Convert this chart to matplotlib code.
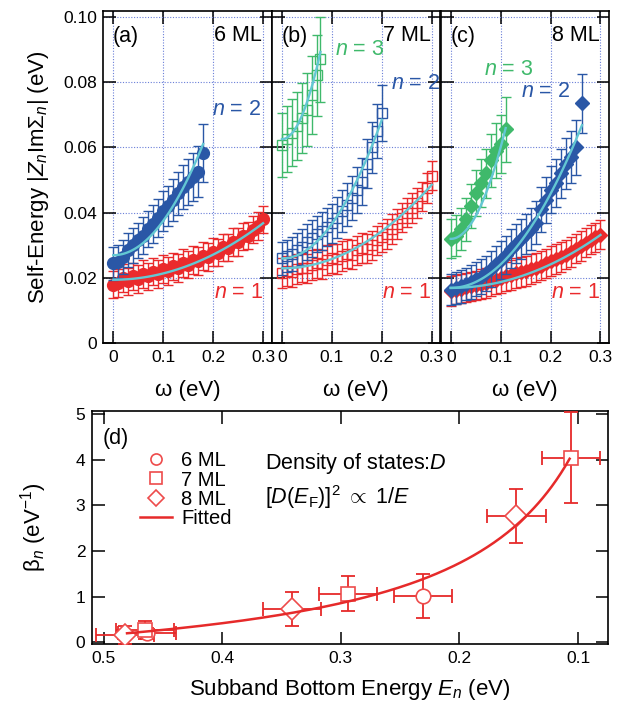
import numpy as np
import matplotlib
matplotlib.use("Agg")
import matplotlib.pyplot as plt
from matplotlib.lines import Line2D

plt.rcParams['font.family'] = ['Liberation Sans', 'DejaVu Sans']
plt.rcParams['mathtext.fontset'] = 'custom'
plt.rcParams['mathtext.rm'] = 'Liberation Sans'
plt.rcParams['mathtext.it'] = 'Liberation Sans:italic'
plt.rcParams['mathtext.bf'] = 'Liberation Sans:bold'
plt.rcParams['mathtext.sf'] = 'Liberation Sans'

RED = '#ea2a2c'
BLUE = '#2a57a6'
GREEN = '#3fb96b'
CYAN = '#63c7d3'
GRIDC = '#6a7fd8'

# ---------------- data: panels (a)-(c), omega in eV, |Z Im Sigma| in eV --------
w31 = [0.00, 0.01, 0.02, 0.03, 0.04, 0.05, 0.06, 0.07, 0.08, 0.09, 0.10, 0.11,
       0.12, 0.13, 0.14, 0.15, 0.16, 0.17, 0.18, 0.19, 0.20, 0.21, 0.22, 0.23,
       0.24, 0.25, 0.26, 0.27, 0.28, 0.29, 0.30]

# 6 ML
w_6_n1 = w31
y_6_n1 = [0.0180, 0.0185, 0.0200, 0.0190, 0.0205, 0.0197, 0.0212, 0.0205, 0.0220,
          0.0213, 0.0228, 0.0222, 0.0236, 0.0231, 0.0246, 0.0241, 0.0256, 0.0252,
          0.0267, 0.0264, 0.0280, 0.0278, 0.0294, 0.0293, 0.0310, 0.0310, 0.0328,
          0.0330, 0.0348, 0.0360, 0.0380]
e_6_n1 = 0.0042
w_6_n2 = [0.00, 0.01, 0.02, 0.03, 0.04, 0.05, 0.06, 0.07, 0.08, 0.09, 0.10, 0.11,
          0.12, 0.13, 0.14, 0.15, 0.16, 0.17, 0.18]
y_6_n2 = [0.0245, 0.0250, 0.0265, 0.0285, 0.0300, 0.0315, 0.0330, 0.0350, 0.0365,
          0.0385, 0.0405, 0.0420, 0.0440, 0.0460, 0.0478, 0.0495, 0.0510, 0.0525,
          0.0583]
e_6_n2 = [0.0050, 0.0050, 0.0052, 0.0052, 0.0054, 0.0054, 0.0056, 0.0056, 0.0058,
          0.0058, 0.0060, 0.0062, 0.0064, 0.0066, 0.0068, 0.0070, 0.0074, 0.0078,
          0.0088]

# 7 ML
w_7_n1 = w31
y_7_n1 = [0.0215, 0.0222, 0.0218, 0.0228, 0.0232, 0.0230, 0.0240, 0.0245, 0.0242,
          0.0255, 0.0260, 0.0258, 0.0268, 0.0275, 0.0272, 0.0285, 0.0292, 0.0290,
          0.0300, 0.0315, 0.0325, 0.0335, 0.0350, 0.0365, 0.0385, 0.0400, 0.0415,
          0.0430, 0.0450, 0.0475, 0.0513]
e_7_n1 = 0.0045
w_7_n2 = [0.00, 0.01, 0.02, 0.03, 0.04, 0.05, 0.06, 0.07, 0.08, 0.09, 0.10, 0.11,
          0.12, 0.13, 0.14, 0.15, 0.16, 0.17, 0.18, 0.19, 0.20]
y_7_n2 = [0.0260, 0.0268, 0.0275, 0.0285, 0.0295, 0.0310, 0.0322, 0.0335, 0.0345,
          0.0355, 0.0368, 0.0385, 0.0405, 0.0425, 0.0445, 0.0470, 0.0495, 0.0550,
          0.0600, 0.0650, 0.0705]
e_7_n2 = [0.0050, 0.0050, 0.0052, 0.0052, 0.0054, 0.0054, 0.0056, 0.0056, 0.0058,
          0.0058, 0.0060, 0.0062, 0.0064, 0.0066, 0.0068, 0.0070, 0.0072, 0.0075,
          0.0078, 0.0082, 0.0085]
w_7_n3 = [0.000, 0.010, 0.020, 0.030, 0.040, 0.050, 0.060, 0.070, 0.077]
y_7_n3 = [0.0608, 0.0625, 0.0645, 0.0665, 0.0690, 0.0715, 0.0760, 0.0820, 0.0870]
e_7_n3 = [0.0098, 0.0100, 0.0102, 0.0105, 0.0108, 0.0112, 0.0118, 0.0125, 0.0130]

# 8 ML
w_8_n1 = w31
y_8_n1 = [0.0160, 0.0165, 0.0168, 0.0172, 0.0175, 0.0178, 0.0182, 0.0185, 0.0190,
          0.0195, 0.0200, 0.0205, 0.0210, 0.0215, 0.0218, 0.0222, 0.0228, 0.0232,
          0.0238, 0.0245, 0.0252, 0.0258, 0.0265, 0.0272, 0.0280, 0.0290, 0.0298,
          0.0308, 0.0318, 0.0325, 0.0333]
e_8_n1 = 0.0045
w_8_n2 = [0.00, 0.01, 0.02, 0.03, 0.04, 0.05, 0.06, 0.07, 0.08, 0.09, 0.10, 0.11,
          0.12, 0.13, 0.14, 0.15, 0.16, 0.17, 0.18, 0.19, 0.20, 0.21, 0.22, 0.23,
          0.24, 0.25, 0.263]
y_8_n2 = [0.0165, 0.0170, 0.0175, 0.0182, 0.0188, 0.0196, 0.0204, 0.0215, 0.0228,
          0.0242, 0.0255, 0.0270, 0.0290, 0.0305, 0.0320, 0.0335, 0.0350, 0.0370,
          0.0410, 0.0440, 0.0470, 0.0490, 0.0520, 0.0550, 0.0570, 0.0600, 0.0735]
e_8_n2 = [0.0048, 0.0048, 0.0050, 0.0050, 0.0052, 0.0052, 0.0054, 0.0054, 0.0056,
          0.0056, 0.0058, 0.0058, 0.0060, 0.0060, 0.0062, 0.0062, 0.0064, 0.0066,
          0.0068, 0.0070, 0.0072, 0.0074, 0.0076, 0.0078, 0.0080, 0.0084, 0.0090]
w_8_n3 = [0.00, 0.01, 0.02, 0.03, 0.04, 0.05, 0.06, 0.07, 0.08, 0.09, 0.10, 0.11]
y_8_n3 = [0.0320, 0.0330, 0.0350, 0.0380, 0.0420, 0.0460, 0.0490, 0.0520, 0.0560,
          0.0590, 0.0610, 0.0655]
e_8_n3 = [0.0060, 0.0062, 0.0064, 0.0066, 0.0068, 0.0070, 0.0073, 0.0076, 0.0080,
          0.0085, 0.0090, 0.0100]

# quadratic fits  y = a + b*w^2 (coefficients), [a, b, w_max]
fit_6_n1 = [0.0195, 0.192, 0.300]
fit_6_n2 = [0.0270, 1.050, 0.180]
fit_7_n1 = [0.0230, 0.284, 0.300]
fit_7_n2 = [0.0260, 1.060, 0.200]
fit_7_n3 = [0.0625, 4.500, 0.077]
fit_8_n1 = [0.0170, 0.180, 0.300]
fit_8_n2 = [0.0170, 0.720, 0.263]
fit_8_n3 = [0.0320, 2.800, 0.110]

# ---------------- data: panel (d) ----------------
E_6 = [0.4635, 0.2305]
b_6 = [0.20, 1.01]
be_6 = [0.12, 0.48]
E_7 = [0.4649, 0.2937, 0.1056]
b_7 = [0.28, 1.07, 4.05]
be_7 = [0.20, 0.39, 0.99]
E_8 = [0.4817, 0.3414, 0.1519]
b_8 = [0.17, 0.73, 2.77]
be_8 = [0.20, 0.38, 0.59]
Eerr = 0.0245

# ---------------- figure ----------------
fig = plt.figure(figsize=(6.17, 7.03), dpi=100)
TICK_FS = 12.5
LAB_FS = 16
TFS = 15.5

lefts = [0.1674, 0.4408, 0.7143]
bottom, height, width = 0.5114, 0.4730, 0.2727
axes = [fig.add_axes([l, bottom, width, height]) for l in lefts]


def style_top(ax, first):
    ax.set_xlim(-0.02, 0.317)
    ax.set_ylim(0, 0.1017)
    ax.set_xticks([0, 0.1, 0.2, 0.3])
    ax.set_xticklabels(['0', '0.1', '0.2', '0.3'])
    ax.set_yticks([0, 0.02, 0.04, 0.06, 0.08, 0.10])
    if first:
        ax.set_yticklabels(['0', '0.02', '0.04', '0.06', '0.08', '0.10'])
    else:
        ax.set_yticklabels([])
    ax.tick_params(direction='in', length=9, width=1.1, top=True, right=True,
                   labelsize=TICK_FS, pad=4.5)
    ax.grid(True, color=GRIDC, linestyle=(0, (1, 1.5)), linewidth=0.8)
    ax.set_axisbelow(True)
    for s in ax.spines.values():
        s.set_linewidth(1.2)
    ax.set_xlabel('ω (eV)', fontsize=LAB_FS, labelpad=11)


def series(ax, w, y, e, color, marker, ms, filled, z):
    ax.errorbar(w, y, yerr=e, fmt='none', ecolor=color, elinewidth=1.0,
                capsize=3.8, capthick=1.0, zorder=z)
    ax.plot(w, y, linestyle='none', marker=marker, ms=ms,
            mfc=color if filled else 'none', mec=color, mew=1.0, zorder=z + 0.1)


def fit(ax, p):
    a, b, wmax = p
    ww = np.linspace(0, wmax, 100)
    ax.plot(ww, a + b * ww ** 2, color=CYAN, lw=1.7, zorder=10)


# (a)
ax = axes[0]
style_top(ax, True)
series(ax, w_6_n1, y_6_n1, e_6_n1, RED, 'o', 8.5, True, 3)
series(ax, w_6_n2, y_6_n2, e_6_n2, BLUE, 'o', 8.5, True, 4)
fit(ax, fit_6_n1)
fit(ax, fit_6_n2)
ax.set_ylabel(r'Self-Energy |$Z_n$Im$\Sigma_n$| (eV)', fontsize=LAB_FS, labelpad=9)

# (b)
ax = axes[1]
style_top(ax, False)
series(ax, w_7_n1, y_7_n1, e_7_n1, RED, 's', 7.5, False, 3)
series(ax, w_7_n2, y_7_n2, e_7_n2, BLUE, 's', 7.5, False, 4)
series(ax, w_7_n3, y_7_n3, e_7_n3, GREEN, 's', 7.5, False, 5)
fit(ax, fit_7_n1)
fit(ax, fit_7_n2)
fit(ax, fit_7_n3)

# (c)
ax = axes[2]
style_top(ax, False)
series(ax, w_8_n1, y_8_n1, e_8_n1, RED, 'D', 7, True, 3)
series(ax, w_8_n2, y_8_n2, e_8_n2, BLUE, 'D', 7, True, 4)
series(ax, w_8_n3, y_8_n3, e_8_n3, GREEN, 'D', 7, True, 5)
fit(ax, fit_8_n1)
fit(ax, fit_8_n2)
fit(ax, fit_8_n3)

# annotations top panels
for ax, lab, ml in zip(axes, ['(a)', '(b)', '(c)'], ['6 ML', '7 ML', '8 ML']):
    ax.text(-0.001, 0.0938, lab, fontsize=TFS, ha='left', va='center', zorder=20)
    ax.text(0.298, 0.0943, ml, fontsize=TFS, ha='right', va='center', zorder=20)
    ax.text(0.300, 0.0155, r'$n$ = 1', fontsize=TFS, color=RED, ha='right',
            va='center', zorder=20)
axes[0].text(0.297, 0.0715, r'$n$ = 2', fontsize=TFS, color=BLUE, ha='right', va='center', zorder=20)
axes[1].text(0.318, 0.0794, r'$n$ = 2', fontsize=TFS, color=BLUE, ha='right', va='center', zorder=20)
axes[1].text(0.107, 0.0899, r'$n$ = 3', fontsize=TFS, color=GREEN, ha='left', va='center', zorder=20)
axes[2].text(0.066, 0.0837, r'$n$ = 3', fontsize=TFS, color=GREEN, ha='left', va='center', zorder=20)
axes[2].text(0.140, 0.0770, r'$n$ = 2', fontsize=TFS, color=BLUE, ha='left', va='center', zorder=20)

# (d)
axd = fig.add_axes([0.1486, 0.0835, 0.8373, 0.3319])
axd.set_xlim(0.51, 0.0745)
axd.set_ylim(-0.04, 5.07)
axd.set_xticks([0.5, 0.4, 0.3, 0.2, 0.1])
axd.set_xticklabels(['0.5', '0.4', '0.3', '0.2', '0.1'])
axd.set_yticks([0, 1, 2, 3, 4, 5])
axd.set_yticklabels(['0', '1', '2', '3', '4', '5'])
axd.tick_params(direction='in', length=9, width=1.1, top=True, right=True,
                labelsize=TICK_FS, pad=4.5)
for s in axd.spines.values():
    s.set_linewidth(1.2)

DRED = '#e62a2a'
MRED = '#ee4b4b'
for E, b, be, mk in [(E_6, b_6, be_6, 'o'), (E_7, b_7, be_7, 's'),
                     (E_8, b_8, be_8, 'D')]:
    axd.errorbar(E, b, xerr=Eerr, yerr=be, fmt='none', ecolor=DRED, elinewidth=1.3,
                 capsize=5, capthick=1.3, zorder=3)
    axd.plot(E, b, linestyle='none', marker=mk, ms=11 if mk == 'D' else 10.5,
             mfc='white', mec=MRED, mew=1.2, zorder=4)

# fitted curve beta = A/E + B, fitted to the data points
E_all = np.array(E_6 + E_7 + E_8)
b_all = np.array(b_6 + b_7 + b_8)
A, B = np.polyfit(1.0 / E_all, b_all, 1)
Ef = np.linspace(max(E_all) - 0.0015, min(E_all) + 0.0015, 200)
axd.plot(Ef, A / Ef + B, color=DRED, lw=1.8, zorder=5)

axd.set_xlabel(r'Subband Bottom Energy $E_n$ (eV)', fontsize=LAB_FS, labelpad=8)
axd.set_ylabel(r'β$_n$ (eV$^{-1}$)', fontsize=LAB_FS, labelpad=19)

axd.text(0.022, 0.884, '(d)', transform=axd.transAxes, fontsize=TFS, ha='left', va='center')
axd.text(0.336, 0.777, r'Density of states:$D$', transform=axd.transAxes,
         fontsize=TFS, ha='left', va='center')
axd.text(0.336, 0.632, r'[$D$($E_\mathrm{F}$)]$^2$ $\propto$ 1/$E$', transform=axd.transAxes,
         fontsize=TFS, ha='left', va='center')

handles = [
    Line2D([], [], linestyle='none', marker='o', ms=8, mfc='white', mec=MRED, mew=1.2),
    Line2D([], [], linestyle='none', marker='s', ms=8, mfc='white', mec=MRED, mew=1.2),
    Line2D([], [], linestyle='none', marker='D', ms=8, mfc='white', mec=MRED, mew=1.2),
    Line2D([], [], color=DRED, lw=1.8),
]
axd.legend(handles, ['6 ML', '7 ML', '8 ML', 'Fitted'], loc='upper left',
           bbox_to_anchor=(0.0935, 0.828), frameon=False, fontsize=14.5,
           handlelength=1.6, handletextpad=0.45, labelspacing=0.02,
           borderpad=0, borderaxespad=0)

fig.savefig('out.png', dpi=100)
